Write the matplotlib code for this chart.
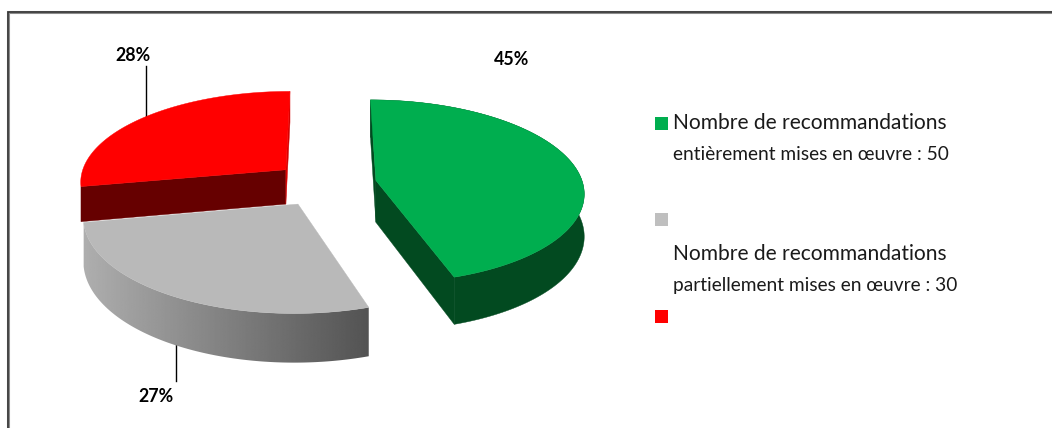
import numpy as np
import matplotlib
matplotlib.use("Agg")
import matplotlib.pyplot as plt
from matplotlib.patches import Rectangle, Polygon

# Chart data
slice_names = ["entièrement", "partiellement", "autres"]
percent_values = [45, 27, 28]
percent_labels = ["45%", "27%", "28%"]
legend_lines = [
    ("Nombre de recommandations", "entièrement mises en œuvre : 50"),
    ("Nombre de recommandations", "partiellement mises en œuvre : 30"),
]

# Colours: the top surface, then the two cut faces and the rim of each slice
top_colors = ["#00AE4F", "#B9B9B9", "#FF0000"]
start_face_colors = ["#024A20", "#8A8A8A", "#660000"]
end_face_colors = ["#024A20", "#8A8A8A", "#D80000"]
rim_styles = ["#024A20", "gradient", None]
legend_colors = ["#00AE4F", "#BFBFBF", "#FF0000"]

# Pie geometry on screen (pixels)
CX, CY = 325.0, 184.0
RX, RY = 207.0, 91.0
PERSP = 0.12
EXPLODE = 0.25
DEPTHS = [42.0, 42.0, 35.0]


def project(X, Y):
    k = 1.0 / (1.0 - PERSP * np.asarray(Y))
    return CX + RX * np.asarray(X) * k, CY + RY * np.asarray(Y) * k, k


def wedge_outline(start, sweep, n=160):
    """Plane coordinates of an exploded slice: apex first, then the arc."""
    mid = start + sweep / 2
    ox, oy = EXPLODE * np.sin(mid), -EXPLODE * np.cos(mid)
    a = np.linspace(start, start + sweep, n)
    return ox, oy, ox + np.sin(a), oy - np.cos(a)


fig = plt.figure(figsize=(10.52, 4.28), dpi=100, facecolor="white")
ax = fig.add_axes([0, 0, 1, 1])

plt.rcParams["font.family"] = ["Lato", "DejaVu Sans"]

# Chart frame: open at the right and the bottom
ax.plot([8, 8, 1052], [428, 12, 12], color="#8C8C8C", lw=2.2, solid_joinstyle="miter", zorder=1)
ax.plot([8.4, 8.4, 1052], [428, 12.4, 12.4], color="#333333", lw=1.1, solid_joinstyle="miter", zorder=1)

# Leader lines
ax.plot([146, 146], [66, 118], color="black", lw=1.0, zorder=2)
ax.plot([176, 176], [345, 381], color="black", lw=1.0, zorder=2)

fractions = np.array(percent_values) / sum(percent_values)
sweeps = fractions * 2 * np.pi
starts = np.concatenate([[0.0], np.cumsum(sweeps)[:-1]])

# Draw the back slice first, the front slice last
for idx in [2, 0, 1]:
    z = 3 + [2, 0, 1].index(idx)
    ox, oy, ax_, ay_ = wedge_outline(starts[idx], sweeps[idx])
    tx, ty, tk = project(ax_, ay_)
    bx, by = tx, ty + DEPTHS[idx] * tk
    apx, apy, apk = project(ox, oy)
    apb = apy + DEPTHS[idx] * apk

    # Outer rim: flat colour, or a left-to-right gradient on the grey slice
    rim = np.column_stack([np.r_[tx, bx[::-1]], np.r_[ty, by[::-1]]])
    if rim_styles[idx] == "gradient":
        ramp = np.linspace(0.69, 0.32, 256).reshape(1, -1)
        img = ax.imshow(ramp, cmap="gray", vmin=0, vmax=1, aspect="auto",
                        extent=(78, 374, 400, 200), zorder=z, interpolation="bilinear")
        clip = Polygon(rim, closed=True, transform=ax.transData, facecolor="none", edgecolor="none")
        ax.add_patch(clip)
        img.set_clip_path(clip)
    elif rim_styles[idx] is not None:
        ax.fill(rim[:, 0], rim[:, 1], color=rim_styles[idx], lw=0.3, zorder=z)
    if rim_styles[idx] != "gradient":
        # Flat cut faces; on the grey slice they stay hidden behind the rim
        ax.fill([apx, tx[0], bx[0], apx], [apy, ty[0], by[0], apb],
                color=start_face_colors[idx], lw=0.3, zorder=z)
        ax.fill([apx, tx[-1], bx[-1], apx], [apy, ty[-1], by[-1], apb],
                color=end_face_colors[idx], lw=0.3, zorder=z)

    # Top surface
    ax.fill(np.r_[apx, tx], np.r_[apy, ty], color=top_colors[idx], lw=0.3, zorder=z + 0.1)

# Percentage labels
label_pos = [(511, 59), (156, 396), (133, 55)]
for text, (lx, ly) in zip(percent_labels, label_pos):
    ax.text(lx, ly, text, ha="center", va="center", fontsize=12.8,
            fontweight="bold", color="black", zorder=10)

# Legend
swatch_y = [117, 213, 310]
for color, sy in zip(legend_colors, swatch_y):
    ax.add_patch(Rectangle((655, sy), 13, 13, facecolor=color, edgecolor="none", zorder=10))

line_y = [(123, 154), (254, 285)]
for (first, second), (y1, y2) in zip(legend_lines, line_y):
    ax.text(673, y1, first, ha="left", va="center", fontsize=15.1, color="#1a1a1a", zorder=10)
    ax.text(673, y2, second, ha="left", va="center", fontsize=13.8, color="#1a1a1a", zorder=10)

ax.set_xlim(0, 1052)
ax.set_ylim(428, 0)
ax.axis("off")

fig.savefig("out.png", dpi=100)
